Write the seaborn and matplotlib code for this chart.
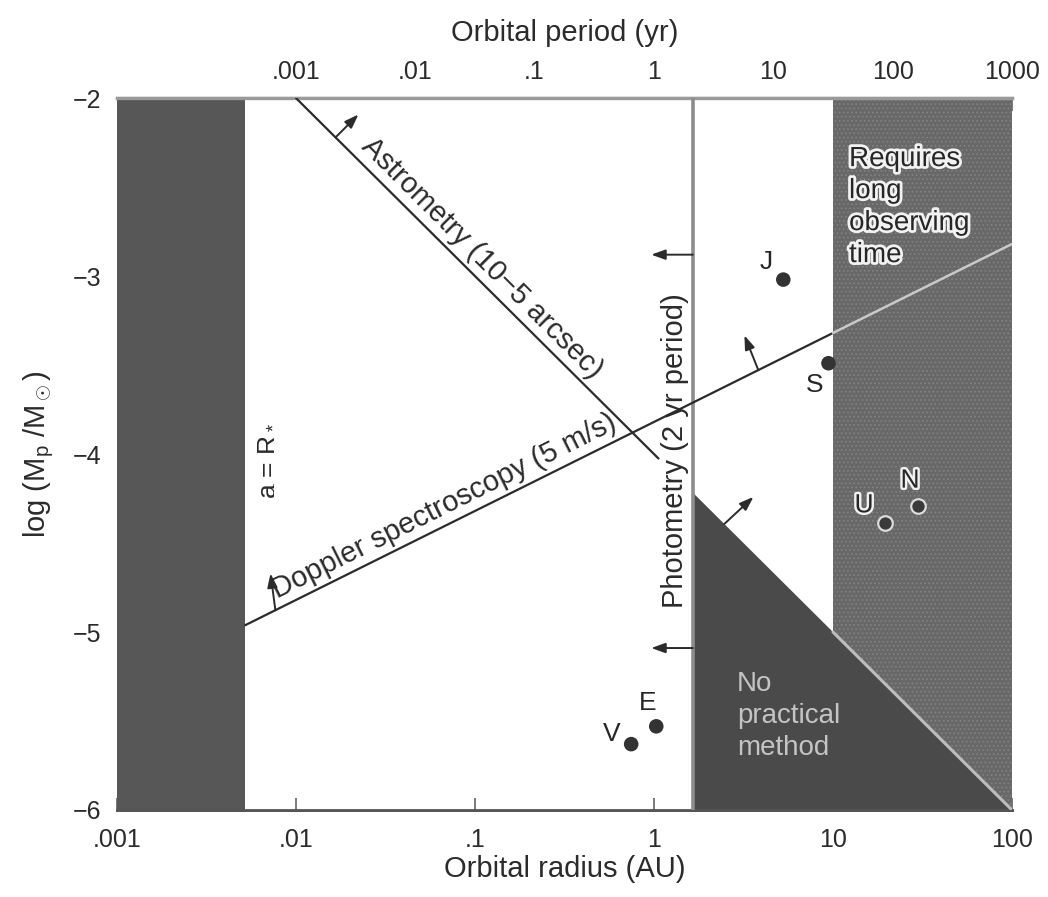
import numpy as np
import pandas as pd
import seaborn as sns
import matplotlib
matplotlib.use("Agg")
import matplotlib.pyplot as plt
import matplotlib.patheffects as pe

# ---- data -------------------------------------------------------------
planet_names = ["V", "E", "J", "S", "U", "N"]
planet_a = [0.746, 1.03, 5.28, 9.44, 19.5, 30.0]          # AU
planet_logm = [-5.63, -5.53, -3.02, -3.49, -4.39, -4.29]  # log(Mp/Msun)
planet_label_offset = [(-14, 7), (-6, 17), (-12, 13), (-10, -16), (-15, 13), (-6, 18)]
planet_in_shade = [False, False, False, False, True, True]

radius_ticks = [0.001, 0.01, 0.1, 1, 10, 100]
radius_labels = [".001", ".01", ".1", "1", "10", "100"]
period_ticks = [0.001, 0.01, 0.1, 1, 10, 100, 1000]
period_labels = [".001", ".01", ".1", "1", "10", "100", "1000"]
mass_ticks = [-2, -3, -4, -5, -6]
mass_labels = ["\u22122", "\u22123", "\u22124", "\u22125", "\u22126"]

a_min, a_max = 0.001, 100.0
logm_min, logm_max = -6.0, -2.0
a_star = 0.0052          # a = R*
a_phot = 1.65            # photometry limit (2 yr period)
a_long = 10.0            # beyond this: long observing time
doppler_c, doppler_slope = -3.82, 0.5     # log M = c + 0.5 log a
astro_c, astro_slope = -4.0, -1.0         # log M = c - log a
astro_a_end = 1.06

# ---- style ------------------------------------------------------------
sns.set_theme(style="white")
plt.rcParams["font.family"] = ["Liberation Sans", "DejaVu Sans"]
plt.rcParams["mathtext.fontset"] = "custom"
plt.rcParams["mathtext.rm"] = "Liberation Sans"
plt.rcParams["mathtext.it"] = "Liberation Sans:italic"
plt.rcParams["hatch.color"] = "#858585"
plt.rcParams["hatch.linewidth"] = 0.7

ink = "#2b2b2b"
fig = plt.figure(figsize=(10.48, 8.97), dpi=100)
ax = fig.add_axes([0.1116, 0.097, 0.8540, 0.7937])
ax.set_xscale("log")
ax.set_xlim(a_min, a_max)
ax.set_ylim(logm_min, logm_max)

# shaded regions
ax.axvspan(a_min, a_star, color="#575757", lw=0, zorder=1)
ax.axvspan(a_long, a_max, facecolor="#686868", edgecolor="#828282",
           hatch="....", lw=0, zorder=1)

tri_a = np.array([a_phot, a_max, a_phot])
tri_m = np.array([astro_c + astro_slope * np.log10(a_phot), logm_min, logm_min])
ax.fill(tri_a, tri_m, color="#4a4a4a", lw=0, zorder=2)

# detection limit lines
def dop(a):
    return doppler_c + doppler_slope * np.log10(a)

def ast(a):
    return astro_c + astro_slope * np.log10(a)

dop_white = pd.DataFrame({"a": np.geomspace(a_star, a_long, 50)})
dop_white["m"] = dop(dop_white["a"])
dop_shade = pd.DataFrame({"a": np.geomspace(a_long, a_max, 20)})
dop_shade["m"] = dop(dop_shade["a"])
ast_line = pd.DataFrame({"a": np.geomspace(0.01, astro_a_end, 50)})
ast_line["m"] = ast(ast_line["a"])
tri_shade = pd.DataFrame({"a": np.geomspace(a_long, a_max, 20)})
tri_shade["m"] = ast(tri_shade["a"])

sns.lineplot(data=dop_white, x="a", y="m", color=ink, lw=1.6, ax=ax, zorder=4)
sns.lineplot(data=dop_shade, x="a", y="m", color="#c9c9c9", lw=1.8, ax=ax, zorder=4)
sns.lineplot(data=ast_line, x="a", y="m", color=ink, lw=1.6, ax=ax, zorder=4)
sns.lineplot(data=tri_shade, x="a", y="m", color="#bdbdbd", lw=2.2, ax=ax, zorder=4)
ax.axvline(a_phot, color="#8d8d8d", lw=2.6, zorder=3)

# arrows pointing toward the detectable side
arrow_kw = dict(arrowstyle="<|-,head_length=0.7,head_width=0.25", color=ink, lw=1.4,
                shrinkA=0, shrinkB=0)
arrows = [
    ((0.01664, ast(0.01664)), (16.5, 16.5)),
    ((10 ** -2.115, dop(10 ** -2.115)), (-3.5, 26.5)),
    ((10 ** 0.583, dop(10 ** 0.583)), (-10, 25)),
    ((a_phot, -2.88), (-30, 0)),
    ((a_phot, -5.09), (-30, 0)),
    ((10 ** 0.393, ast(10 ** 0.393)), (21, 19.5)),
]
for base, off in arrows:
    ax.annotate("", xy=base, xycoords="data", xytext=off, textcoords="offset points",
                arrowprops=arrow_kw, zorder=5)

# line labels
lab_fs = 21
ax.annotate("Astrometry (10\u22125 arcsec)", xy=(10 ** -1.68, ast(10 ** -1.68)),
            xytext=(2, 2), textcoords="offset points", rotation=-45,
            rotation_mode="anchor", ha="left", va="bottom", fontsize=lab_fs, color=ink)
ax.annotate("Doppler spectroscopy (5 m/s)", xy=(10 ** -2.08, dop(10 ** -2.08)),
            xytext=(-1, 2), textcoords="offset points", rotation=26.57,
            rotation_mode="anchor", ha="left", va="bottom", fontsize=lab_fs, color=ink)
ax.annotate("Photometry (2 yr period)", xy=(a_phot, -3.98), xytext=(-13, 0),
            textcoords="offset points", rotation=90, ha="center", va="center",
            fontsize=lab_fs, color=ink)
ax.annotate("a = R$_*$", xy=(a_star, -4.04), xytext=(14, 0), textcoords="offset points",
            rotation=90, ha="center", va="center", fontsize=19, color=ink)

ax.text(12.3, -2.27, "Requires\nlong\nobserving\ntime", ha="left", va="top",
        fontsize=20, color="#262626", linespacing=1.3, zorder=6,
        path_effects=[pe.withStroke(linewidth=4, foreground="#f2f2f2")])
ax.text(2.9, -5.22, "No\npractical\nmethod", ha="left", va="top",
        fontsize=20, color="#c4c4c4", linespacing=1.3, zorder=6)

# planets
pl = pd.DataFrame({"a": planet_a, "m": planet_logm, "name": planet_names,
                   "shade": planet_in_shade})
sns.scatterplot(data=pl[~pl["shade"]], x="a", y="m", s=110, color="#333333",
                edgecolor="none", ax=ax, zorder=7)
sns.scatterplot(data=pl[pl["shade"]], x="a", y="m", s=110, color="#3a3a3a",
                edgecolor="#dcdcdc", linewidth=1.6, ax=ax, zorder=7)
for name, a, m, off, shade in zip(planet_names, planet_a, planet_logm,
                                  planet_label_offset, planet_in_shade):
    effects = [pe.withStroke(linewidth=3.5, foreground="#f0f0f0")] if shade else None
    ax.annotate(name, xy=(a, m), xytext=off, textcoords="offset points",
                ha="center", va="center", fontsize=19, color="#262626",
                path_effects=effects, zorder=8)

# axes, ticks, labels
tick_fs = 18
ax.set_xticks(radius_ticks)
ax.set_xticklabels(radius_labels)
ax.minorticks_off()
ax.set_yticks(mass_ticks)
ax.set_yticklabels(mass_labels)
ax.tick_params(axis="both", direction="in", length=9, width=1.3, color="#707070",
               labelsize=tick_fs, labelcolor=ink)
ax.tick_params(axis="x", pad=13)
ax.tick_params(axis="y", pad=11)
ax.set_xlabel("Orbital radius (AU)", fontsize=21, color=ink, labelpad=2)
ax.set_ylabel("log (M$_\\mathrm{p}$ /M$_\\odot$)", fontsize=21, color=ink, labelpad=12)

top = ax.twiny()
top.set_xscale("log")
top.set_xlim(a_min ** 1.5, a_max ** 1.5)
top.set_xticks(period_ticks)
top.set_xticklabels(period_labels)
top.minorticks_off()
top.tick_params(axis="x", direction="in", length=9, width=1.3, color="#707070",
                labelsize=tick_fs, labelcolor=ink, pad=10)
top.set_xlabel("Orbital period (yr)", fontsize=21, color=ink, labelpad=14)

for a_ in (ax, top):
    a_.spines["left"].set_visible(False)
    a_.spines["right"].set_visible(False)
    a_.spines["top"].set_color("#9a9a9a")
    a_.spines["top"].set_linewidth(2.4)
    a_.spines["bottom"].set_color("#555555")
    a_.spines["bottom"].set_linewidth(2.0)
ax.set_zorder(1)
top.set_zorder(0)

fig.savefig("out.png", dpi=100)
